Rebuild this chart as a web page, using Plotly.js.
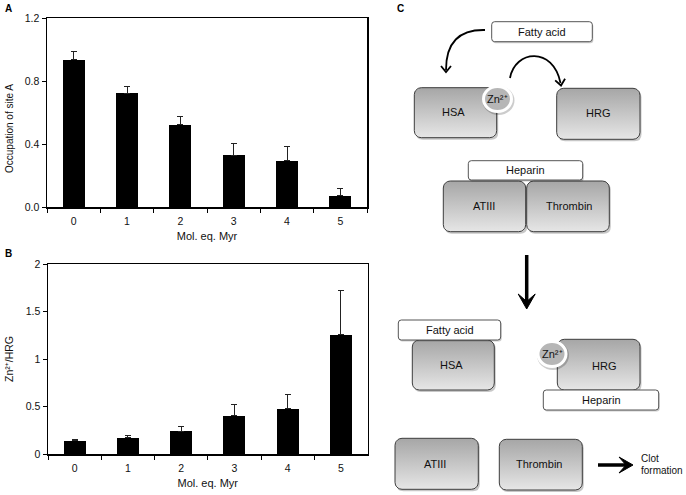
<!DOCTYPE html>
<html>
<head>
<meta charset="utf-8">
<script src="https://cdn.plot.ly/plotly-3.0.1.min.js"></script>
<style>html,body{margin:0;padding:0;background:#fff}#chart{width:686px;height:495px}</style>
</head>
<body>
<div id="chart"></div>
<script>
// ---------- data ----------
const categories = ['0', '1', '2', '3', '4', '5'];
const occupancySiteA = [0.935, 0.722, 0.522, 0.330, 0.295, 0.070];
const occupancySiteAErr = [0.052, 0.042, 0.055, 0.072, 0.086, 0.048];
const znPerHrg = [0.137, 0.172, 0.242, 0.403, 0.477, 1.253];
const znPerHrgErr = [0.012, 0.018, 0.045, 0.123, 0.151, 0.470];
const yTickValsA = [0, 0.4, 0.8, 1.2];
const yTickTextA = ['0.0', '0.4', '0.8', '1.2'];
const yTickValsB = [0, 0.5, 1, 1.5, 2];
const yTickTextB = ['0', '0.5', '1', '1.5', '2'];
const xTitle = 'Mol. eq. Myr';
const yTitleA = 'Occupation of site A';
const yTitleB = 'Zn²⁺/HRG';

// ---------- diagram (panel C) ----------
const greyBoxes = [
  {label: 'HSA', b: [414.3, 87.7, 496.7, 137.7], t: [453, 112]},
  {label: 'HRG', b: [556.7, 88.3, 640, 139.3], t: [598, 113]},
  {label: 'ATIII', b: [443.3, 181, 525.7, 231.7], t: [484, 206]},
  {label: 'Thrombin', b: [526.7, 181, 609.3, 231.7], t: [569, 206]},
  {label: 'HSA', b: [412.3, 340, 494.3, 390], t: [451, 365]},
  {label: 'HRG', b: [557.3, 339.3, 640, 390], t: [604, 366]},
  {label: 'ATIII', b: [395, 438.3, 478.3, 489.3], t: [435, 464]},
  {label: 'Thrombin', b: [499.3, 439.3, 582.3, 490], t: [539, 464]}
];
const whiteBoxes = [
  {label: 'Fatty acid', b: [491.7, 21.7, 592.3, 41.7]},
  {label: 'Heparin', b: [468.3, 160.7, 582.7, 180]},
  {label: 'Fatty acid', b: [398.3, 320, 500.7, 340]},
  {label: 'Heparin', b: [543.3, 390, 658.7, 410]}
];
const znIons = [[497.5, 99], [552, 354]];
const znLabel = 'Zn²⁺';

const FONT = 'Liberation Sans, Arial, Helvetica, sans-serif';
const W = 686, H = 495;

function rrPts(x0, y0, x1, y1, r) {
  const xs = [], ys = [];
  const corners = [[x1 - r, y0 + r, -90], [x1 - r, y1 - r, 0], [x0 + r, y1 - r, 90], [x0 + r, y0 + r, 180]];
  corners.forEach(c => {
    for (let k = 0; k <= 8; k++) {
      const a = (c[2] + k * 90 / 8) * Math.PI / 180;
      xs.push(c[0] + r * Math.cos(a));
      ys.push(c[1] + r * Math.sin(a));
    }
  });
  xs.push(xs[0]); ys.push(ys[0]);
  return {xs, ys};
}
function rrPath(x0, y0, x1, y1, r) {
  return `M${x0 + r},${y0} L${x1 - r},${y0} Q${x1},${y0} ${x1},${y0 + r} L${x1},${y1 - r} Q${x1},${y1} ${x1 - r},${y1} L${x0 + r},${y1} Q${x0},${y1} ${x0},${y1 - r} L${x0},${y0 + r} Q${x0},${y0} ${x0 + r},${y0} Z`;
}
function headPath(tx, ty, dx, dy, L, hw, notch, closed) {
  const n = Math.hypot(dx, dy); dx /= n; dy /= n;
  const px = -dy, py = dx;
  const b1 = [tx - L * dx + hw * px, ty - L * dy + hw * py];
  const b2 = [tx - L * dx - hw * px, ty - L * dy - hw * py];
  if (!closed) return `M${b1[0]},${b1[1]} L${tx},${ty} L${b2[0]},${b2[1]}`;
  const nk = [tx - notch * L * dx, ty - notch * L * dy];
  return `M${tx},${ty} L${b1[0]},${b1[1]} L${nk[0]},${nk[1]} L${b2[0]},${b2[1]} Z`;
}

const traces = [
  {
    type: 'bar', x: categories, y: occupancySiteA, xaxis: 'x', yaxis: 'y',
    width: 0.41, marker: {color: '#000'},
    error_y: {type: 'data', symmetric: false, array: occupancySiteAErr, arrayminus: categories.map(() => 0), color: '#222', thickness: 1, width: 3},
    hoverinfo: 'skip', showlegend: false
  },
  {
    type: 'bar', x: categories, y: znPerHrg, xaxis: 'x2', yaxis: 'y2',
    width: 0.41, marker: {color: '#000'},
    error_y: {type: 'data', symmetric: false, array: znPerHrgErr, arrayminus: categories.map(() => 0), color: '#222', thickness: 1, width: 3},
    hoverinfo: 'skip', showlegend: false
  }
];

const shapes = [];
const annotations = [];
const txtFont = {family: FONT, size: 11, color: '#111'};

greyBoxes.forEach(g => {
  const [x0, y0, x1, y1] = g.b;
  shapes.push({type: 'path', xref: 'x3', yref: 'y3', path: rrPath(x0 + 1.5, y0 + 2, x1 + 1.5, y1 + 2, 7), fillcolor: 'rgba(0,0,0,0.22)', line: {width: 0}, layer: 'below'});
  const p = rrPts(x0, y0, x1, y1, 7);
  traces.push({
    type: 'scatter', mode: 'lines', x: p.xs, y: p.ys, xaxis: 'x3', yaxis: 'y3',
    fill: 'toself', fillgradient: {type: 'vertical', colorscale: [[0, '#e6e6e6'], [1, '#a6a6a6']]},
    line: {color: '#3c3c3c', width: 1}, hoverinfo: 'skip', showlegend: false
  });
  annotations.push({xref: 'x3', yref: 'y3', x: g.t[0], y: g.t[1], text: g.label, showarrow: false, font: txtFont});
});

whiteBoxes.forEach(w => {
  const [x0, y0, x1, y1] = w.b;
  shapes.push({type: 'path', xref: 'x3', yref: 'y3', path: rrPath(x0 + 1, y0 + 1.5, x1 + 1, y1 + 1.5, 3), fillcolor: 'rgba(0,0,0,0.2)', line: {width: 0}, layer: 'above'});
  shapes.push({type: 'path', xref: 'x3', yref: 'y3', path: rrPath(x0, y0, x1, y1, 3), fillcolor: '#fff', line: {color: '#555', width: 1}, layer: 'above'});
  annotations.push({xref: 'x3', yref: 'y3', x: (x0 + x1) / 2, y: (y0 + y1) / 2, text: w.label, showarrow: false, font: txtFont});
});

znIons.forEach(z => {
  const [cx, cy] = z;
  shapes.push({type: 'circle', xref: 'x3', yref: 'y3', x0: cx - 16 + 1, x1: cx + 16 + 1, y0: cy - 14.5 + 1.5, y1: cy + 14.5 + 1.5, fillcolor: 'rgba(0,0,0,0.2)', line: {width: 0}, layer: 'above'});
  shapes.push({type: 'circle', xref: 'x3', yref: 'y3', x0: cx - 14, x1: cx + 14, y0: cy - 12.5, y1: cy + 12.5, fillcolor: '#b6b6b6', line: {color: '#fff', width: 3}, layer: 'above'});
  annotations.push({xref: 'x3', yref: 'y3', x: cx, y: cy, text: znLabel, showarrow: false, font: {family: FONT, size: 11, color: '#111'}});
});

// curved arrows with open heads
shapes.push({type: 'path', xref: 'x3', yref: 'y3', path: 'M485,30 Q446,29 446,70', line: {color: '#000', width: 1.8}, layer: 'above'});
shapes.push({type: 'path', xref: 'x3', yref: 'y3', path: headPath(446, 72, 0, 1, 6, 5, 0, false), line: {color: '#000', width: 1.8}, layer: 'above'});
shapes.push({type: 'path', xref: 'x3', yref: 'y3', path: 'M510,78 C515,50 553,46 560.5,83', line: {color: '#000', width: 1.8}, layer: 'above'});
shapes.push({type: 'path', xref: 'x3', yref: 'y3', path: headPath(561, 85.5, 0.15, 1, 6, 5, 0, false), line: {color: '#000', width: 1.8}, layer: 'above'});
// straight thick arrows
shapes.push({type: 'line', xref: 'x3', yref: 'y3', x0: 526.7, y0: 255, x1: 526.7, y1: 302, line: {color: '#000', width: 3.5}, layer: 'above'});
shapes.push({type: 'path', xref: 'x3', yref: 'y3', path: headPath(526.7, 309, 0, 1, 15, 8.5, 0.5, true), fillcolor: '#000', line: {color: '#000', width: 1}, layer: 'above'});
shapes.push({type: 'line', xref: 'x3', yref: 'y3', x0: 598, y0: 465, x1: 626, y1: 465, line: {color: '#000', width: 3.5}, layer: 'above'});
shapes.push({type: 'path', xref: 'x3', yref: 'y3', path: headPath(633, 465, 1, 0, 14, 8, 0.5, true), fillcolor: '#000', line: {color: '#000', width: 1}, layer: 'above'});
annotations.push({xref: 'x3', yref: 'y3', x: 639, y: 458, xanchor: 'left', text: 'Clot', showarrow: false, font: {family: FONT, size: 10, color: '#111'}});
annotations.push({xref: 'x3', yref: 'y3', x: 639, y: 470.5, xanchor: 'left', text: 'formation', showarrow: false, font: {family: FONT, size: 10, color: '#111'}});

// panel labels and the (off-centre) y title of panel A
const panelFont = {family: FONT, size: 10, color: '#000', weight: 'bold'};
annotations.push({xref: 'x3', yref: 'y3', x: 8, y: 8, text: 'A', showarrow: false, font: panelFont});
annotations.push({xref: 'x3', yref: 'y3', x: 8, y: 253, text: 'B', showarrow: false, font: panelFont});
annotations.push({xref: 'x3', yref: 'y3', x: 400, y: 8, text: 'C', showarrow: false, font: panelFont});
annotations.push({xref: 'x3', yref: 'y3', x: 9, y: 129, text: yTitleA, textangle: -90, showarrow: false, font: {family: FONT, size: 10, color: '#111'}});

const xCommon = {
  type: 'category', range: [-0.5, 5.5], ticks: 'outside', tickson: 'boundaries', ticklen: 4, tickwidth: 1, tickcolor: '#000',
  showline: true, mirror: true, linecolor: '#000', linewidth: 1.5, showgrid: false, zeroline: false,
  ticklabelstandoff: 4,
  tickfont: {family: FONT, size: 10.5, color: '#111'}, fixedrange: true,
  title: {text: xTitle, font: txtFont, standoff: 6}
};
const yCommon = {
  ticks: 'outside', ticklen: 4, tickwidth: 1, tickcolor: '#000',
  showline: true, mirror: true, linecolor: '#000', linewidth: 1.5, showgrid: false, zeroline: false,
  tickfont: {family: FONT, size: 10.5, color: '#111'}, fixedrange: true
};

const layout = {
  width: W, height: H,
  margin: {l: 0, r: 0, t: 0, b: 0, pad: 0},
  paper_bgcolor: '#fff', plot_bgcolor: 'rgba(0,0,0,0)',
  showlegend: false, bargap: 0,
  xaxis: Object.assign({}, xCommon, {domain: [47 / W, 367 / W], anchor: 'y'}),
  yaxis: Object.assign({}, yCommon, {domain: [1 - 207 / H, 1 - 18 / H], range: [0, 1.2], tickvals: yTickValsA, ticktext: yTickTextA, anchor: 'x'}),
  xaxis2: Object.assign({}, xCommon, {domain: [48 / W, 367.5 / W], anchor: 'y2'}),
  yaxis2: Object.assign({}, yCommon, {domain: [1 - 454 / H, 1 - 264 / H], range: [0, 2], tickvals: yTickValsB, ticktext: yTickTextB, anchor: 'x2',
    title: {text: yTitleB, font: {family: FONT, size: 10.5, color: '#111'}, standoff: 10}}),
  xaxis3: {domain: [0, 1], range: [0, W], visible: false, fixedrange: true, anchor: 'y3'},
  yaxis3: {domain: [0, 1], range: [H, 0], visible: false, fixedrange: true, anchor: 'x3'},
  shapes: shapes,
  annotations: annotations
};

Plotly.newPlot('chart', traces, layout, {displayModeBar: false, staticPlot: true});
</script>
</body>
</html>
